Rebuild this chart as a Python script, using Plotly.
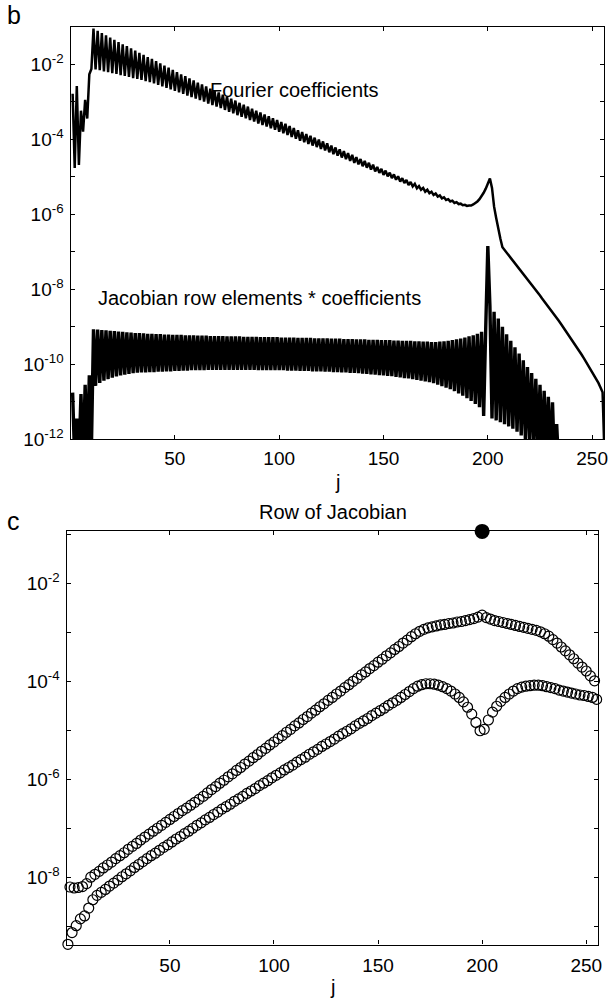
import plotly.graph_objects as go

W, H = 615, 1008
FONT = "Liberation Sans, Arial, Helvetica, sans-serif"


def px(x):
    return x / W


def py(y):
    return 1 - y / H


# ---------------- panel b data (log10 of values), j = 1..256 ----------------
j_b = list(range(1, 257))

fourier_log10 = [
    -2.79, -4.77, -2.58, -4.69, -3.24, -3.80, -2.95, -3.45, -2.27, -2.13,
    -1.05, -2.14, -1.11, -2.16, -1.17, -2.19, -1.23, -2.21, -1.29, -2.24,
    -1.35, -2.26, -1.41, -2.29, -1.47, -2.31, -1.52, -2.34, -1.58, -2.37,
    -1.64, -2.39, -1.70, -2.42, -1.75, -2.45, -1.81, -2.48, -1.86, -2.51,
    -1.92, -2.55, -1.98, -2.59, -2.04, -2.63, -2.09, -2.67, -2.15, -2.71,
    -2.21, -2.75, -2.27, -2.79, -2.32, -2.84, -2.38, -2.88, -2.43, -2.92,
    -2.49, -2.96, -2.54, -3.00, -2.59, -3.05, -2.65, -3.09, -2.70, -3.13,
    -2.75, -3.17, -2.81, -3.22, -2.86, -3.27, -2.92, -3.31, -2.97, -3.36,
    -3.03, -3.40, -3.08, -3.44, -3.13, -3.49, -3.19, -3.53, -3.24, -3.58,
    -3.29, -3.62, -3.34, -3.66, -3.39, -3.71, -3.44, -3.75, -3.49, -3.80,
    -3.54, -3.84, -3.59, -3.89, -3.65, -3.94, -3.70, -3.99, -3.76, -4.04,
    -3.81, -4.08, -3.86, -4.13, -3.91, -4.17, -3.96, -4.21, -4.01, -4.26,
    -4.06, -4.30, -4.11, -4.35, -4.17, -4.40, -4.22, -4.44, -4.27, -4.49,
    -4.32, -4.53, -4.37, -4.58, -4.42, -4.63, -4.48, -4.67, -4.53, -4.72,
    -4.58, -4.76, -4.63, -4.81, -4.68, -4.86, -4.74, -4.90, -4.79, -4.95,
    -4.84, -4.99, -4.89, -5.04, -4.94, -5.08, -4.99, -5.13, -5.04, -5.17,
    -5.09, -5.22, -5.14, -5.26, -5.19, -5.31, -5.25, -5.35, -5.30, -5.40,
    -5.35, -5.44, -5.40, -5.49, -5.45, -5.53, -5.50, -5.58, -5.55, -5.62,
    -5.60, -5.66, -5.64, -5.70, -5.68, -5.73, -5.72, -5.76, -5.75, -5.78,
    -5.77, -5.77, -5.74, -5.71, -5.66, -5.60, -5.52, -5.43, -5.32, -5.18,
    -5.05, -5.30, -5.80, -6.10, -6.40, -6.65, -6.88, -6.95, -7.02, -7.10,
    -7.17, -7.25, -7.32, -7.39, -7.46, -7.54, -7.61, -7.68, -7.75, -7.82,
    -7.89, -7.96, -8.03, -8.10, -8.17, -8.25, -8.32, -8.39, -8.46, -8.53,
    -8.60, -8.68, -8.76, -8.84, -8.92, -9.00, -9.08, -9.16, -9.24, -9.32,
    -9.40, -9.48, -9.57, -9.66, -9.75, -9.84, -9.93, -10.02, -10.11, -10.20,
    -10.29, -10.38, -10.50, -10.62, -10.75, -12.60,
]

jacobian_coef_log10 = [
    -10.76, -12.60, -11.45, -12.60, -10.80, -12.60, -10.55, -12.50, -10.30, -12.30,
    -9.07, -10.58, -9.08, -10.50, -9.09, -10.44, -9.10, -10.40, -9.11, -10.36,
    -9.12, -10.33, -9.13, -10.30, -9.14, -10.28, -9.15, -10.26, -9.16, -10.24,
    -9.17, -10.23, -9.17, -10.22, -9.18, -10.22, -9.19, -10.21, -9.19, -10.21,
    -9.20, -10.20, -9.20, -10.20, -9.21, -10.19, -9.21, -10.19, -9.22, -10.18,
    -9.22, -10.18, -9.22, -10.17, -9.23, -10.17, -9.23, -10.16, -9.23, -10.16,
    -9.24, -10.16, -9.24, -10.16, -9.24, -10.15, -9.25, -10.15, -9.25, -10.15,
    -9.25, -10.15, -9.25, -10.15, -9.26, -10.15, -9.26, -10.15, -9.26, -10.15,
    -9.26, -10.15, -9.27, -10.15, -9.27, -10.15, -9.27, -10.15, -9.27, -10.16,
    -9.28, -10.16, -9.28, -10.16, -9.28, -10.16, -9.28, -10.16, -9.28, -10.16,
    -9.29, -10.16, -9.29, -10.17, -9.29, -10.17, -9.29, -10.17, -9.30, -10.18,
    -9.30, -10.18, -9.30, -10.18, -9.30, -10.19, -9.31, -10.19, -9.31, -10.19,
    -9.31, -10.20, -9.31, -10.20, -9.32, -10.21, -9.32, -10.21, -9.32, -10.22,
    -9.33, -10.22, -9.33, -10.23, -9.33, -10.23, -9.34, -10.24, -9.34, -10.25,
    -9.34, -10.26, -9.35, -10.27, -9.35, -10.28, -9.35, -10.29, -9.36, -10.30,
    -9.36, -10.31, -9.36, -10.32, -9.37, -10.34, -9.37, -10.35, -9.38, -10.37,
    -9.38, -10.38, -9.38, -10.40, -9.39, -10.42, -9.39, -10.44, -9.40, -10.46,
    -9.40, -10.48, -9.41, -10.51, -9.41, -10.55, -9.40, -10.59, -9.39, -10.63,
    -9.38, -10.67, -9.36, -10.72, -9.34, -10.78, -9.32, -10.84, -9.29, -10.91,
    -9.26, -10.98, -9.23, -11.06, -9.19, -11.15, -9.14, -11.38, -9.00, -6.85,
    -8.45, -11.45, -8.60, -11.50, -8.78, -11.55, -9.00, -11.60, -9.20, -11.66,
    -9.38, -11.72, -9.55, -11.80, -9.72, -11.90, -9.90, -12.00, -10.08, -12.10,
    -10.24, -12.20, -10.39, -12.30, -10.55, -12.40, -10.71, -12.50, -10.87, -12.60,
    -11.02, -12.70, -11.60, -12.80, -12.30, -12.90, -12.80, -13.00, -13.00, -13.10,
    -13.10, -13.20, -13.20, -13.30, -13.30, -13.40, -13.40, -13.50, -13.50, -13.60,
    -13.60, -13.70, -13.70, -13.80, -13.80, -13.90,
]

# ---------------- panel c data (log10 of |row of Jacobian|) ----------------
row_odd_j = list(range(1, 256, 2))
row_odd_log10 = [
    -9.36, -9.12, -8.98, -8.84, -8.78, -8.62, -8.45, -8.36, -8.30, -8.24,
    -8.17, -8.11, -8.05, -7.98, -7.92, -7.86, -7.79, -7.73, -7.67, -7.61,
    -7.55, -7.50, -7.44, -7.38, -7.33, -7.27, -7.21, -7.16, -7.10, -7.05,
    -6.99, -6.93, -6.88, -6.82, -6.77, -6.71, -6.66, -6.60, -6.55, -6.50,
    -6.44, -6.39, -6.34, -6.28, -6.23, -6.18, -6.12, -6.07, -6.02, -5.96,
    -5.91, -5.86, -5.80, -5.75, -5.70, -5.64, -5.59, -5.54, -5.48, -5.43,
    -5.38, -5.32, -5.27, -5.22, -5.17, -5.11, -5.06, -5.01, -4.96, -4.90,
    -4.85, -4.80, -4.75, -4.69, -4.64, -4.59, -4.54, -4.48, -4.43, -4.38,
    -4.32, -4.26, -4.20, -4.14, -4.09, -4.06, -4.04, -4.04, -4.05, -4.07,
    -4.10, -4.14, -4.19, -4.25, -4.32, -4.41, -4.52, -4.66, -4.83, -5.00,
    -4.97, -4.78, -4.62, -4.50, -4.40, -4.32, -4.25, -4.19, -4.14, -4.11,
    -4.09, -4.08, -4.07, -4.07, -4.08, -4.10, -4.12, -4.14, -4.17, -4.19,
    -4.21, -4.23, -4.25, -4.27, -4.28, -4.30, -4.32, -4.36,
]

row_even_j = list(range(2, 257, 2))
row_even_log10 = [
    -8.19, -8.21, -8.20, -8.18, -8.12, -7.99, -7.93, -7.87, -7.80, -7.74,
    -7.68, -7.61, -7.55, -7.49, -7.42, -7.36, -7.30, -7.23, -7.17, -7.11,
    -7.05, -6.99, -6.93, -6.87, -6.81, -6.75, -6.69, -6.63, -6.58, -6.52,
    -6.46, -6.40, -6.34, -6.27, -6.20, -6.14, -6.07, -6.01, -5.94, -5.88,
    -5.81, -5.75, -5.68, -5.62, -5.55, -5.49, -5.42, -5.36, -5.29, -5.23,
    -5.16, -5.10, -5.03, -4.97, -4.90, -4.84, -4.77, -4.71, -4.64, -4.58,
    -4.51, -4.45, -4.38, -4.32, -4.25, -4.19, -4.12, -4.06, -3.99, -3.93,
    -3.86, -3.80, -3.73, -3.67, -3.60, -3.54, -3.47, -3.41, -3.34, -3.28,
    -3.21, -3.15, -3.08, -3.02, -2.97, -2.93, -2.90, -2.88, -2.86, -2.84,
    -2.83, -2.81, -2.80, -2.78, -2.77, -2.75, -2.73, -2.71, -2.68, -2.64,
    -2.69, -2.72, -2.75, -2.77, -2.79, -2.81, -2.83, -2.85, -2.87, -2.89,
    -2.91, -2.93, -2.95, -2.98, -3.02, -3.07, -3.14, -3.21, -3.29, -3.37,
    -3.45, -3.53, -3.62, -3.70, -3.78, -3.88, -3.98, -4.07,
]

diag_j = [200]
diag_log10 = [-0.93]

x_tick_vals = [50, 100, 150, 200, 250]
labelled_exponents = [-12, -10, -8, -6, -4, -2]
b_minor_exponents = [-11, -9, -7, -5, -3, -1]
c_labelled_exponents = [-8, -6, -4, -2]
c_minor_exponents = [-9, -7, -5, -3, -1]


def tolin(vals):
    return [10.0 ** v for v in vals]


def sup_text(exps):
    return ["10<sup>%d</sup>" % d for d in exps]


fig = go.Figure()

fig.add_trace(go.Scatter(x=j_b, y=tolin(fourier_log10), mode="lines",
                         line=dict(color="black", width=2.5),
                         xaxis="x", yaxis="y", showlegend=False))
fig.add_trace(go.Scatter(x=j_b, y=tolin(jacobian_coef_log10), mode="lines",
                         line=dict(color="black", width=3.4),
                         xaxis="x", yaxis="y", showlegend=False))

circ = dict(symbol="circle-open", size=10, color="black", line=dict(width=1.2, color="black"))
fig.add_trace(go.Scatter(x=row_odd_j, y=tolin(row_odd_log10), mode="markers",
                         marker=circ, xaxis="x2", yaxis="y2", cliponaxis=False,
                         showlegend=False))
fig.add_trace(go.Scatter(x=row_even_j, y=tolin(row_even_log10), mode="markers",
                         marker=circ, xaxis="x2", yaxis="y2", cliponaxis=False,
                         showlegend=False))
fig.add_trace(go.Scatter(x=diag_j, y=tolin(diag_log10), mode="markers",
                         marker=dict(symbol="circle", size=15, color="black"),
                         xaxis="x2", yaxis="y2", cliponaxis=False, showlegend=False))

axis_common = dict(showline=True, linecolor="black", linewidth=1.3, mirror="ticks",
                   ticks="inside", ticklen=4, tickwidth=1, tickcolor="black",
                   showgrid=False, zeroline=False,
                   tickfont=dict(family=FONT, size=19, color="black"))
minor_common = dict(ticks="inside", ticklen=4, tickwidth=1, tickcolor="black", showgrid=False)

fig.update_layout(
    width=W, height=H, autosize=False,
    margin=dict(l=0, r=0, t=0, b=0),
    paper_bgcolor="white", plot_bgcolor="white",
    font=dict(family=FONT, color="black"),
    xaxis=dict(domain=[px(71), px(608)], range=[0, 255.7], anchor="y",
               tickvals=x_tick_vals, ticklabelstandoff=2, **axis_common),
    yaxis=dict(domain=[py(444), py(27)], type="log", range=[-12, -1], anchor="x",
               tickvals=tolin(labelled_exponents), ticktext=sup_text(labelled_exponents),
               minor=dict(tickvals=tolin(b_minor_exponents), **minor_common),
               ticklabelstandoff=2, **axis_common),
    xaxis2=dict(domain=[px(67), px(602)], range=[0.36, 255.7], anchor="y2",
                tickvals=x_tick_vals, ticklabelstandoff=3, **axis_common),
    yaxis2=dict(domain=[py(955), py(537)], type="log", range=[-9.365, -0.925], anchor="x2",
                tickvals=tolin(c_labelled_exponents), ticktext=sup_text(c_labelled_exponents),
                minor=dict(tickvals=tolin(c_minor_exponents), **minor_common),
                ticklabelstandoff=2, **axis_common),
)

ann = [
    ("b", 14, 15, 25),
    ("c", 14, 527, 25),
    ("Fourier coefficients", 296, 91, 20),
    ("Jacobian row elements * coefficients", 261, 301, 20),
    ("j", 340, 487, 20),
    ("Row of Jacobian", 335, 518, 20),
    ("j", 335, 998, 20),
]
for text, x, y, s in ann:
    fig.add_annotation(text=text, x=px(x), y=py(y), xref="paper", yref="paper",
                       xanchor="center", yanchor="middle", showarrow=False,
                       font=dict(family=FONT, size=s, color="black"))

fig.write_html("out.html", config={"displayModeBar": False},
               post_script="document.body.style.margin='0px';document.body.style.overflow='hidden';")
